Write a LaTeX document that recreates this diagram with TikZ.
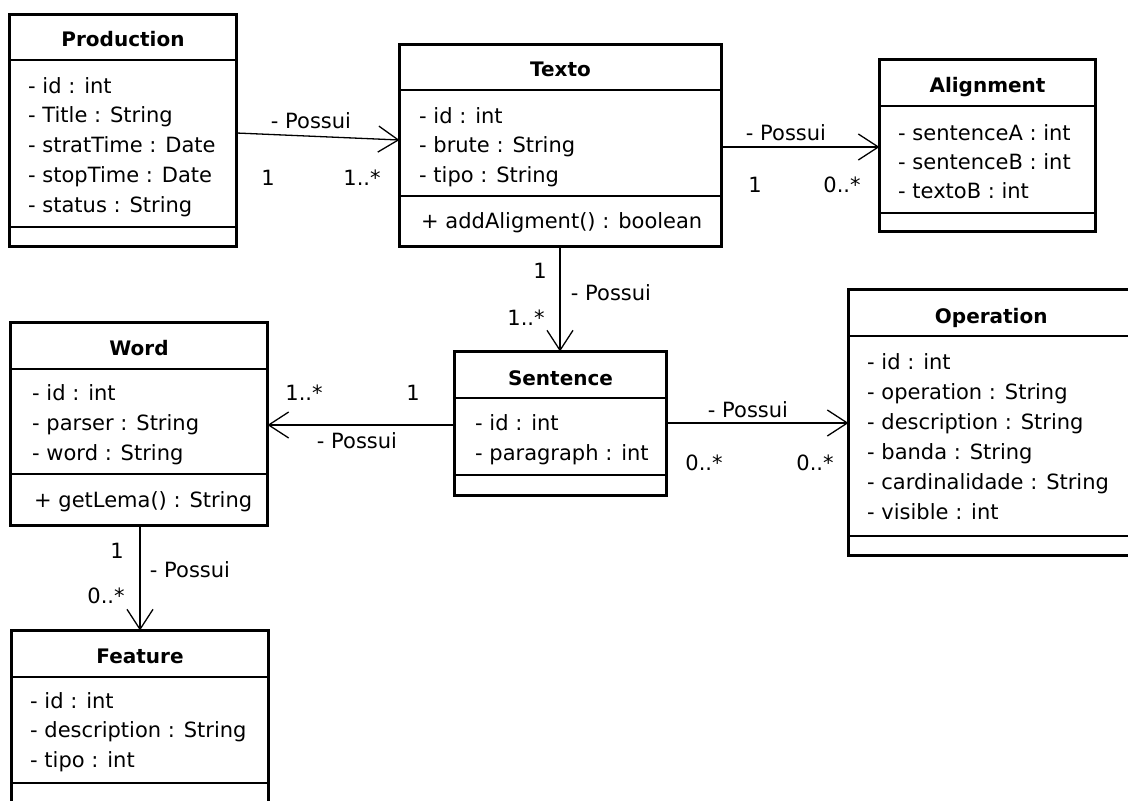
\documentclass[tikz,border=0pt]{standalone}
\usepackage{fontspec}
\setmainfont{DejaVu Sans}
\usetikzlibrary{arrows.meta}
\newcommand{\umlbox}[9]{%
  \node[classbox, minimum width={#4-#2}, minimum height={#5-#3}] (#1) at (#2,#3) {};
  \draw[sepline] (#1.west |- 0,#6) -- (#1.east |- 0,#6);
  \draw[sepline] (#1.west |- 0,#7) -- (#1.east |- 0,#7);
  \node[titlestyle] (#1-title) at ({(#2+#4)/2},#9) {#8};
}
\newcommand{\umlattrs}[5]{%
  \foreach \t [count=\i] in {#5} {\node[attr] (#1-\i) at (#2,{#3+(\i-1)*#4}) {\t};}
}
\begin{document}
\begin{tikzpicture}[x=1pt,y=-1pt,
  classbox/.style={draw, line width=3pt, fill=white, rectangle, inner sep=0pt, outer sep=0pt, anchor=north west},
  sepline/.style={line width=1.3pt},
  assoc/.style={line width=1.3pt, -{Straight Barb[length=20pt,width=26pt]}},
  attr/.style={anchor=base west, inner sep=0pt, font=\fontsize{21}{25}\selectfont},
  titlestyle/.style={anchor=base, inner sep=0pt, font=\bfseries\fontsize{20}{24}\selectfont},
  lbl/.style={anchor=base, inner sep=0pt, font=\fontsize{21}{25}\selectfont}]
\useasboundingbox (0,0) rectangle (1128,801);
\clip (0,0) rectangle (1128,801);
\fill[white] (0,0) rectangle (1128,801);

% Production
\umlbox{production}{9.5}{14.5}{236.5}{246.5}{60}{227}{Production}{46}
\umlattrs{production-a}{28}{93}{29.8}{{- id : int},{- Title : String},{- stratTime : Date},{- stopTime : Date},{- status : String}}

% Texto
\umlbox{texto}{399.5}{44.5}{721.5}{246.5}{90}{196}{Texto}{76}
\umlattrs{texto-a}{419}{123}{29.5}{{- id : int},{- brute : String},{- tipo : String}}
\umlattrs{texto-m}{421}{228}{30}{{+ addAligment() : boolean}}

% Alignment
\umlbox{alignment}{879.5}{59.5}{1095.5}{231.5}{106}{213}{Alignment}{92}
\umlattrs{alignment-a}{898}{140}{29}{{- sentenceA : int},{- sentenceB : int},{- textoB : int}}

% Word
\umlbox{word}{10.5}{322.5}{267.5}{525.5}{369}{474}{Word}{355}
\umlattrs{word-a}{32}{400}{30}{{- id : int},{- parser : String},{- word : String}}
\umlattrs{word-m}{34}{507}{30}{{+ getLema() : String}}

% Sentence
\umlbox{sentence}{454.5}{351.5}{666.5}{495.5}{398}{475}{Sentence}{385}
\umlattrs{sentence-a}{475}{430}{30}{{- id : int},{- paragraph : int}}

% Operation
\umlbox{operation}{848.5}{289.5}{1134}{555.5}{336}{536}{Operation}{323}
\umlattrs{operation-a}{867}{369}{30}{{- id : int},{- operation : String},{- description : String},{- banda : String},{- cardinalidade : String},{- visible : int}}

% Feature
\umlbox{feature}{11.5}{630.5}{268.5}{830}{677}{783}{Feature}{663}
\umlattrs{feature-a}{30}{708}{29.5}{{- id : int},{- description : String},{- tipo : int}}

% Associations
\draw[assoc] (production.east |- 0,133) -- (texto.west |- 0,140);
\node[lbl] (pt-name) at (311,128) {- Possui};
\node[lbl] (pt-m1) at (268,185) {1};
\node[lbl] (pt-m2) at (362,185) {1..*};

\draw[assoc] (texto.east |- 0,147) -- (alignment.west |- 0,147);
\node[lbl] (ta-name) at (786,140) {- Possui};
\node[lbl] (ta-m1) at (755,192) {1};
\node[lbl] (ta-m2) at (842,192) {0..*};

\draw[assoc] (texto.south -| 560,0) -- (sentence.north -| 560,0);
\node[lbl] (ts-m1) at (540,278) {1};
\node[lbl] (ts-name) at (611,300) {- Possui};
\node[lbl] (ts-m2) at (526,325) {1..*};

\draw[assoc] (sentence.west |- 0,425) -- (word.east |- 0,425);
\node[lbl] (sw-m2) at (304,400) {1..*};
\node[lbl] (sw-m1) at (413,400) {1};
\node[lbl] (sw-name) at (357,448) {- Possui};

\draw[assoc] (sentence.east |- 0,423) -- (operation.west |- 0,423);
\node[lbl] (so-name) at (748,417) {- Possui};
\node[lbl] (so-m1) at (704,470) {0..*};
\node[lbl] (so-m2) at (815,470) {0..*};

\draw[assoc] (word.south -| 140,0) -- (feature.north -| 140,0);
\node[lbl] (wf-m1) at (117,558) {1};
\node[lbl] (wf-name) at (190,577) {- Possui};
\node[lbl] (wf-m2) at (106,603) {0..*};
\end{tikzpicture}
\end{document}
